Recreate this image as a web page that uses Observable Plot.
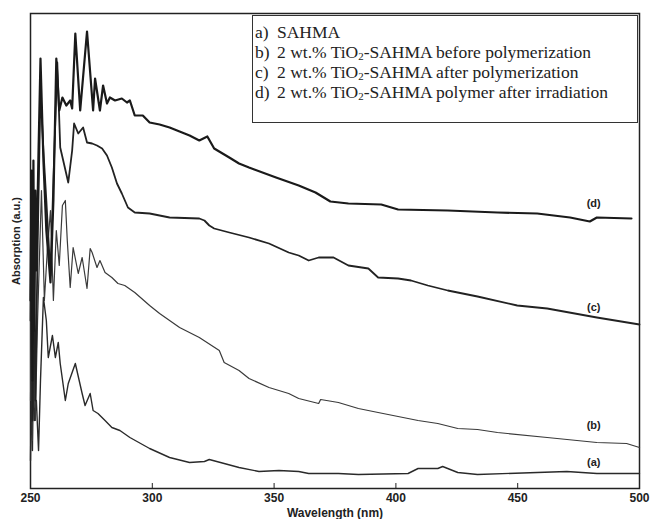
<!DOCTYPE html>
<html>
<head>
<meta charset="utf-8">
<script src="https://cdn.jsdelivr.net/npm/d3@7"></script>
<script src="https://cdn.jsdelivr.net/npm/@observablehq/plot@0.6"></script>
<style>
  html, body { margin: 0; padding: 0; background: #fff; }
  #wrap { position: relative; width: 650px; height: 519px; }
  #legend {
    position: absolute; left: 252px; top: 15px; width: 386px; height: 108px;
    border: 1.2px solid #333; background: #fff; box-sizing: border-box;
    font-family: "Liberation Serif", "Times New Roman", serif; font-size: 17.5px; color: #222;
    padding: 6px 0 0 2px; line-height: 20px;
  }
  #legend .row { white-space: nowrap; }
  #legend .k { display: inline-block; width: 22px; }
  #legend sub { font-size: 0.62em; vertical-align: -0.2em; line-height: 0; }
</style>
</head>
<body>
<div id="wrap"><div id="legend"></div></div>
<script>
// Wavelength (nm) and absorption (a.u.)
const wlA = [250.0,250.4,250.8,251.2,251.6,252.4,253.3,254.1,255.3,256.5,257.3,259.0,260.2,261.4,262.2,264.3,265.5,268.4,271.2,272.4,274.5,275.7,277.7,280.6,283.4,286.7,290.8,298.9,307.1,315.3,321.4,323.4,335.6,343.8,352.0,360.1,364.2,376.4,384.6,405.0,409.1,417.2,419.2,425.4,433.5,458.0,470.2,482.5,500.0];
const absA = [0.28,1.08,0.38,1.38,0.68,0.88,0.38,1.08,1.91,1.68,1.31,1.53,1.31,1.46,1.25,0.88,1.05,1.25,0.95,0.83,0.95,0.78,0.75,0.68,0.61,0.58,0.51,0.40,0.31,0.26,0.27,0.29,0.21,0.17,0.18,0.17,0.15,0.15,0.14,0.15,0.20,0.20,0.22,0.16,0.14,0.16,0.17,0.15,0.15];

const wlB = [250.0,250.4,250.8,251.2,252.0,252.9,254.5,255.7,256.9,258.2,259.4,260.6,261.8,263.1,264.3,265.1,266.3,267.5,269.6,271.2,273.2,274.5,275.3,277.3,278.5,280.6,283.4,285.9,288.7,292.8,298.9,303.0,311.2,319.3,327.5,329.5,335.6,339.7,347.9,356.0,360.1,368.3,369.1,376.4,384.6,392.7,400.9,409.1,417.2,425.4,433.5,441.7,462.1,482.5,494.7,500.0];
const absB = [0.88,1.98,0.48,2.28,0.68,1.68,2.98,1.88,2.38,2.78,1.88,2.58,2.23,2.83,2.88,2.48,2.01,2.41,2.15,2.31,2.00,2.40,2.36,2.21,2.28,2.16,2.11,2.05,2.03,1.96,1.83,1.75,1.61,1.51,1.38,1.26,1.18,1.10,1.01,0.95,0.90,0.85,0.89,0.86,0.80,0.76,0.72,0.68,0.65,0.60,0.59,0.56,0.51,0.46,0.45,0.41];

const wlC = [250.0,250.4,250.8,251.2,252.0,252.9,254.1,255.3,256.5,258.2,259.4,261.0,262.2,263.9,265.5,267.1,267.9,269.6,271.6,273.2,275.3,277.3,279.4,281.4,283.4,285.5,287.5,290.0,292.8,298.9,307.1,319.3,321.4,323.4,325.4,331.6,339.7,347.9,356.0,360.1,364.2,368.3,374.4,380.5,388.7,392.7,400.9,406.2,413.1,421.3,433.5,449.8,462.1,482.5,500.0];
const absC = [1.68,2.88,0.68,2.58,0.88,2.38,3.98,3.38,2.88,2.13,3.08,4.26,3.41,3.23,3.06,3.38,3.65,3.55,3.61,3.46,3.45,3.43,3.40,3.33,3.21,3.05,2.95,2.81,2.76,2.75,2.71,2.70,2.68,2.63,2.60,2.56,2.51,2.45,2.36,2.33,2.28,2.31,2.31,2.23,2.20,2.11,2.10,2.08,2.03,1.98,1.92,1.83,1.80,1.71,1.64];

const wlD = [250.0,250.4,250.8,251.2,251.6,252.0,252.4,253.3,254.1,255.3,256.5,258.2,259.4,260.6,261.8,263.1,264.7,266.3,267.1,268.4,270.4,273.2,275.7,276.5,278.5,279.8,281.4,282.6,284.7,287.5,289.6,290.8,292.8,296.1,298.9,303.0,307.1,311.2,315.3,319.3,322.6,325.4,331.6,335.6,339.7,350.8,360.1,367.0,373.1,380.5,394.0,400.9,421.3,441.7,458.0,471.5,479.6,482.5,496.7];
const absD = [1.88,3.18,1.08,3.28,1.58,2.98,2.18,3.38,4.30,3.28,2.58,2.06,2.88,4.30,3.78,3.91,3.83,3.88,3.80,4.55,3.78,4.57,3.78,4.10,3.78,4.03,3.85,3.91,3.88,3.90,3.86,3.88,3.73,3.73,3.66,3.64,3.61,3.57,3.53,3.48,3.52,3.40,3.31,3.25,3.21,3.11,3.03,2.96,2.87,2.85,2.84,2.79,2.78,2.76,2.75,2.71,2.67,2.71,2.70];

const curveLabels = ["(a)", "(b)", "(c)", "(d)"];
const labelWl = [481.2, 481.2, 481.2, 481.2];
const labelAbs = [0.26, 0.63, 1.81, 2.85];

const legendKeys = ["a)", "b)", "c)", "d)"];
const legendTexts = [
  "SAHMA",
  "2 wt.% TiO<sub>2</sub>-SAHMA before polymerization",
  "2 wt.% TiO<sub>2</sub>-SAHMA after polymerization",
  "2 wt.% TiO<sub>2</sub>-SAHMA polymer after irradiation"
];

const xTicks = [250, 300, 350, 400, 450, 500];

const toRows = (wl, ab) => wl.map((w, i) => ({wl: w, abs: ab[i]}));
const rowsA = toRows(wlA, absA), rowsB = toRows(wlB, absB), rowsC = toRows(wlC, absC), rowsD = toRows(wlD, absD);
const labelRows = curveLabels.map((t, i) => ({t, wl: labelWl[i], abs: labelAbs[i]}));

const chart = Plot.plot({
  width: 650, height: 519,
  marginLeft: 30, marginRight: 11, marginTop: 13, marginBottom: 31,
  style: {fontFamily: "'Liberation Sans', Arial, sans-serif", fontSize: "12px", fontWeight: "bold", color: "#222", background: "transparent"},
  x: {domain: [250, 500], ticks: xTicks, tickSize: -5, tickPadding: 10, tickFormat: d => String(d), label: "Wavelength (nm)", labelAnchor: "center", labelArrow: "none", labelOffset: 28},
  y: {domain: [0, 4.75], axis: null},
  marks: [
    Plot.frame({stroke: "#222", strokeWidth: 1.5}),
    Plot.line(rowsA, {x: "wl", y: "abs", stroke: "#2a2a2a", strokeWidth: 1.4, strokeLinejoin: "round"}),
    Plot.line(rowsB, {x: "wl", y: "abs", stroke: "#3a3a3a", strokeWidth: 1.2, strokeLinejoin: "round"}),
    Plot.line(rowsC, {x: "wl", y: "abs", stroke: "#222", strokeWidth: 1.8, strokeLinejoin: "round"}),
    Plot.line(rowsD, {x: "wl", y: "abs", stroke: "#1a1a1a", strokeWidth: 2.2, strokeLinejoin: "round"}),
    Plot.text(labelRows, {x: "wl", y: "abs", text: "t", fontSize: 11, fontWeight: "bold", fill: "#222"}),
    Plot.text(["Absorption (a.u.)"], {frameAnchor: "left", textAnchor: "middle", rotate: -90, dx: -14, dy: -10, fontSize: 11, fontWeight: "bold", fill: "#222"})
  ]
});
document.getElementById("wrap").prepend(chart);

const legend = document.getElementById("legend");
legendKeys.forEach((k, i) => {
  const row = document.createElement("div");
  row.className = "row";
  row.innerHTML = `<span class="k">${k}</span>${legendTexts[i]}`;
  legend.appendChild(row);
});
</script>
</body>
</html>
